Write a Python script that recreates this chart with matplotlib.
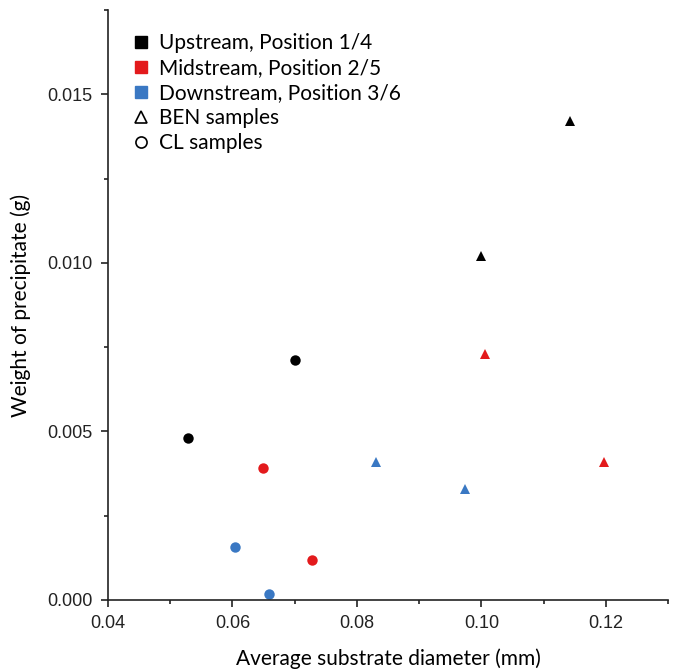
import matplotlib
matplotlib.use("Agg")
import matplotlib.pyplot as plt
from matplotlib.lines import Line2D
from matplotlib.ticker import MultipleLocator

# values
up_x_cl = [0.0528, 0.0700]
up_y_cl = [0.00479, 0.00711]
up_x_ben = [0.0999, 0.1142]
up_y_ben = [0.0102, 0.0142]

mid_x_cl = [0.0649, 0.0728]
mid_y_cl = [0.00390, 0.00119]
mid_x_ben = [0.1005, 0.1197]
mid_y_ben = [0.00730, 0.00408]

down_x_cl = [0.0604, 0.0659]
down_y_cl = [0.00158, 0.00018]
down_x_ben = [0.0830, 0.0973]
down_y_ben = [0.00408, 0.00329]

c_up = 'black'
c_mid = '#e31a1c'
c_down = '#3a78c3'

label_font = 'Lato'
tick_font = 'Liberation Sans'

fig = plt.figure(figsize=(6.79, 6.71), dpi=100)
ax = fig.add_axes([0.159, 0.106, 0.825, 0.879])

for xs, ys, xb, yb, c in [(up_x_cl, up_y_cl, up_x_ben, up_y_ben, c_up),
                          (mid_x_cl, mid_y_cl, mid_x_ben, mid_y_ben, c_mid),
                          (down_x_cl, down_y_cl, down_x_ben, down_y_ben, c_down)]:
    ax.plot(xs, ys, 'o', color=c, markersize=7.5, markeredgewidth=0)
    ax.plot(xb, yb, '^', color=c, markersize=7, markeredgewidth=0)

ax.set_xlim(0.04, 0.13)
ax.set_ylim(0, 0.0175)
ax.xaxis.set_major_locator(MultipleLocator(0.02))
ax.xaxis.set_minor_locator(MultipleLocator(0.01))
ax.yaxis.set_major_locator(MultipleLocator(0.005))
ax.yaxis.set_minor_locator(MultipleLocator(0.0025))
ax.xaxis.set_major_formatter(plt.FuncFormatter(lambda v, p: '%.2f' % v))
ax.yaxis.set_major_formatter(plt.FuncFormatter(lambda v, p: '%.3f' % v))

for s in ['top', 'right']:
    ax.spines[s].set_visible(False)
for s in ['left', 'bottom']:
    ax.spines[s].set_linewidth(1.2)
    ax.spines[s].set_color('#222222')
ax.tick_params(which='major', length=5, width=1.2, color='#222222', labelsize=13, pad=6)
ax.tick_params(which='minor', length=3, width=1.2, color='#222222')
for lab in ax.get_xticklabels() + ax.get_yticklabels():
    lab.set_fontfamily(tick_font)
    lab.set_color('#222222')

ax.set_xlabel('Average substrate diameter (mm)', fontsize=15, family=label_font, labelpad=12)
ax.set_ylabel('Weight of precipitate (g)', fontsize=15, family=label_font, labelpad=12)

handles = [
    Line2D([], [], marker='s', color=c_up, linestyle='none', markersize=8),
    Line2D([], [], marker='s', color=c_mid, linestyle='none', markersize=8),
    Line2D([], [], marker='s', color=c_down, linestyle='none', markersize=8),
    Line2D([], [], marker='^', markerfacecolor='white', markeredgecolor='black', linestyle='none', markersize=8, markeredgewidth=1.2),
    Line2D([], [], marker='o', markerfacecolor='white', markeredgecolor='black', linestyle='none', markersize=8, markeredgewidth=1.2),
]
labels = ['Upstream, Position 1/4', 'Midstream, Position 2/5', 'Downstream, Position 3/6',
          'BEN samples', 'CL samples']
ax.legend(handles, labels, loc='upper left', bbox_to_anchor=(0.015, 0.985), frameon=False,
          prop={'family': label_font, 'size': 15}, handletextpad=0.35,
          labelspacing=0.24, borderaxespad=0.3, handlelength=1.0)

fig.savefig('out.png', dpi=100)
